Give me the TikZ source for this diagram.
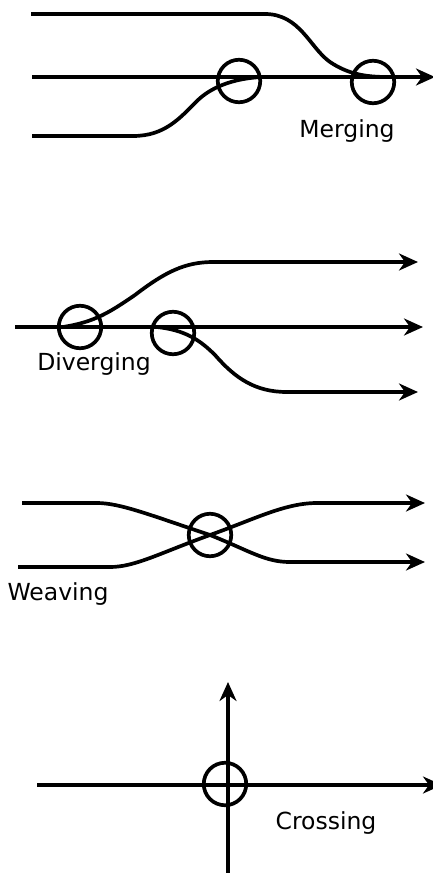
\documentclass[tikz,border=0pt]{standalone}
\usepackage{fontspec}
\setmainfont{DejaVu Sans}
\usepackage{tikz}
\usetikzlibrary{arrows.meta,positioning}

\begin{document}
\begin{tikzpicture}[
    x=1pt,y=-1pt,
    road/.style={line width=3.7pt},
    flow/.style={road,-{Stealth[length=19pt,width=17pt,inset=6pt]}},
    spot/.style={circle,draw,line width=3.7pt,minimum size=42.5pt,inner sep=0pt},
    tag/.style={anchor=base,inner sep=0pt,font=\fontsize{23.5}{26}\selectfont}
]
\useasboundingbox (0,0) rectangle (433,873);

% merging
\node[spot] (M1) at (239,81) {};
\node[spot] (M2) at (373,82) {};
\coordinate (ma) at (31,14);  \coordinate (mak) at (265,14);  \coordinate (maj) at (388,77);
\coordinate (mb) at (32,77);  \coordinate (mbe) at (435,77);
\coordinate (mc) at (32,136); \coordinate (mck) at (133,136); \coordinate (mcj) at (262,77);
\draw[road] (ma) -- (mak) .. controls (300,14) and (310,48) .. (330,62)
    .. controls (348,74) and (365,77) .. (maj);
\draw[flow] (mb) -- (mbe);
\draw[road] (mc) -- (mck) .. controls (165,136) and (180,118) .. (198,100)
    .. controls (215,84) and (240,78) .. (mcj);
\node[tag] (mtag) at (347,137) {Merging};

% diverging
\node[spot] (D1) at (80,327) {};
\node[spot] (D2) at (173,333) {};
\coordinate (da) at (15,327);  \coordinate (dae) at (423,327);
\coordinate (db) at (63,327);  \coordinate (dbk) at (213,262); \coordinate (dbe) at (418,262);
\coordinate (dc) at (157,327); \coordinate (dck) at (287,392); \coordinate (dce) at (418,392);
\draw[flow] (da) -- (dae);
\draw[flow] (db) .. controls (95,322) and (110,312) .. (135,295)
    .. controls (165,272) and (185,262) .. (dbk) -- (dbe);
\draw[flow] (dc) .. controls (185,330) and (200,340) .. (215,355)
    .. controls (235,378) and (255,392) .. (dck) -- (dce);
\node[tag] (dtag) at (94,370) {Diverging};

% weaving
\node[spot] (W) at (210,535) {};
\coordinate (wa) at (22,503);  \coordinate (wak) at (97,503);  \coordinate (waj) at (290,562); \coordinate (wae) at (425,562);
\coordinate (wb) at (18,567);  \coordinate (wbk) at (110,567); \coordinate (wbj) at (317,503); \coordinate (wbe) at (425,503);
\draw[flow] (wa) -- (wak) .. controls (120,503) and (150,515) .. (W.center)
    .. controls (250,551) and (265,562) .. (waj) -- (wae);
\draw[flow] (wb) -- (wbk) .. controls (135,567) and (160,553) .. (W.center)
    .. controls (255,519) and (285,503) .. (wbj) -- (wbe);
\node[tag] (wtag) at (58,600) {Weaving};

% crossing
\node[spot] (C) at (225,784) {};
\coordinate (ca) at (37,785);  \coordinate (cae) at (442,785);
\coordinate (cb) at (228,880); \coordinate (cbe) at (228,682);
\draw[flow] (ca) -- (cae);
\draw[flow] (cb) -- (cbe);
\node[tag] (ctag) at (326,829) {Crossing};
\end{tikzpicture}
\end{document}
